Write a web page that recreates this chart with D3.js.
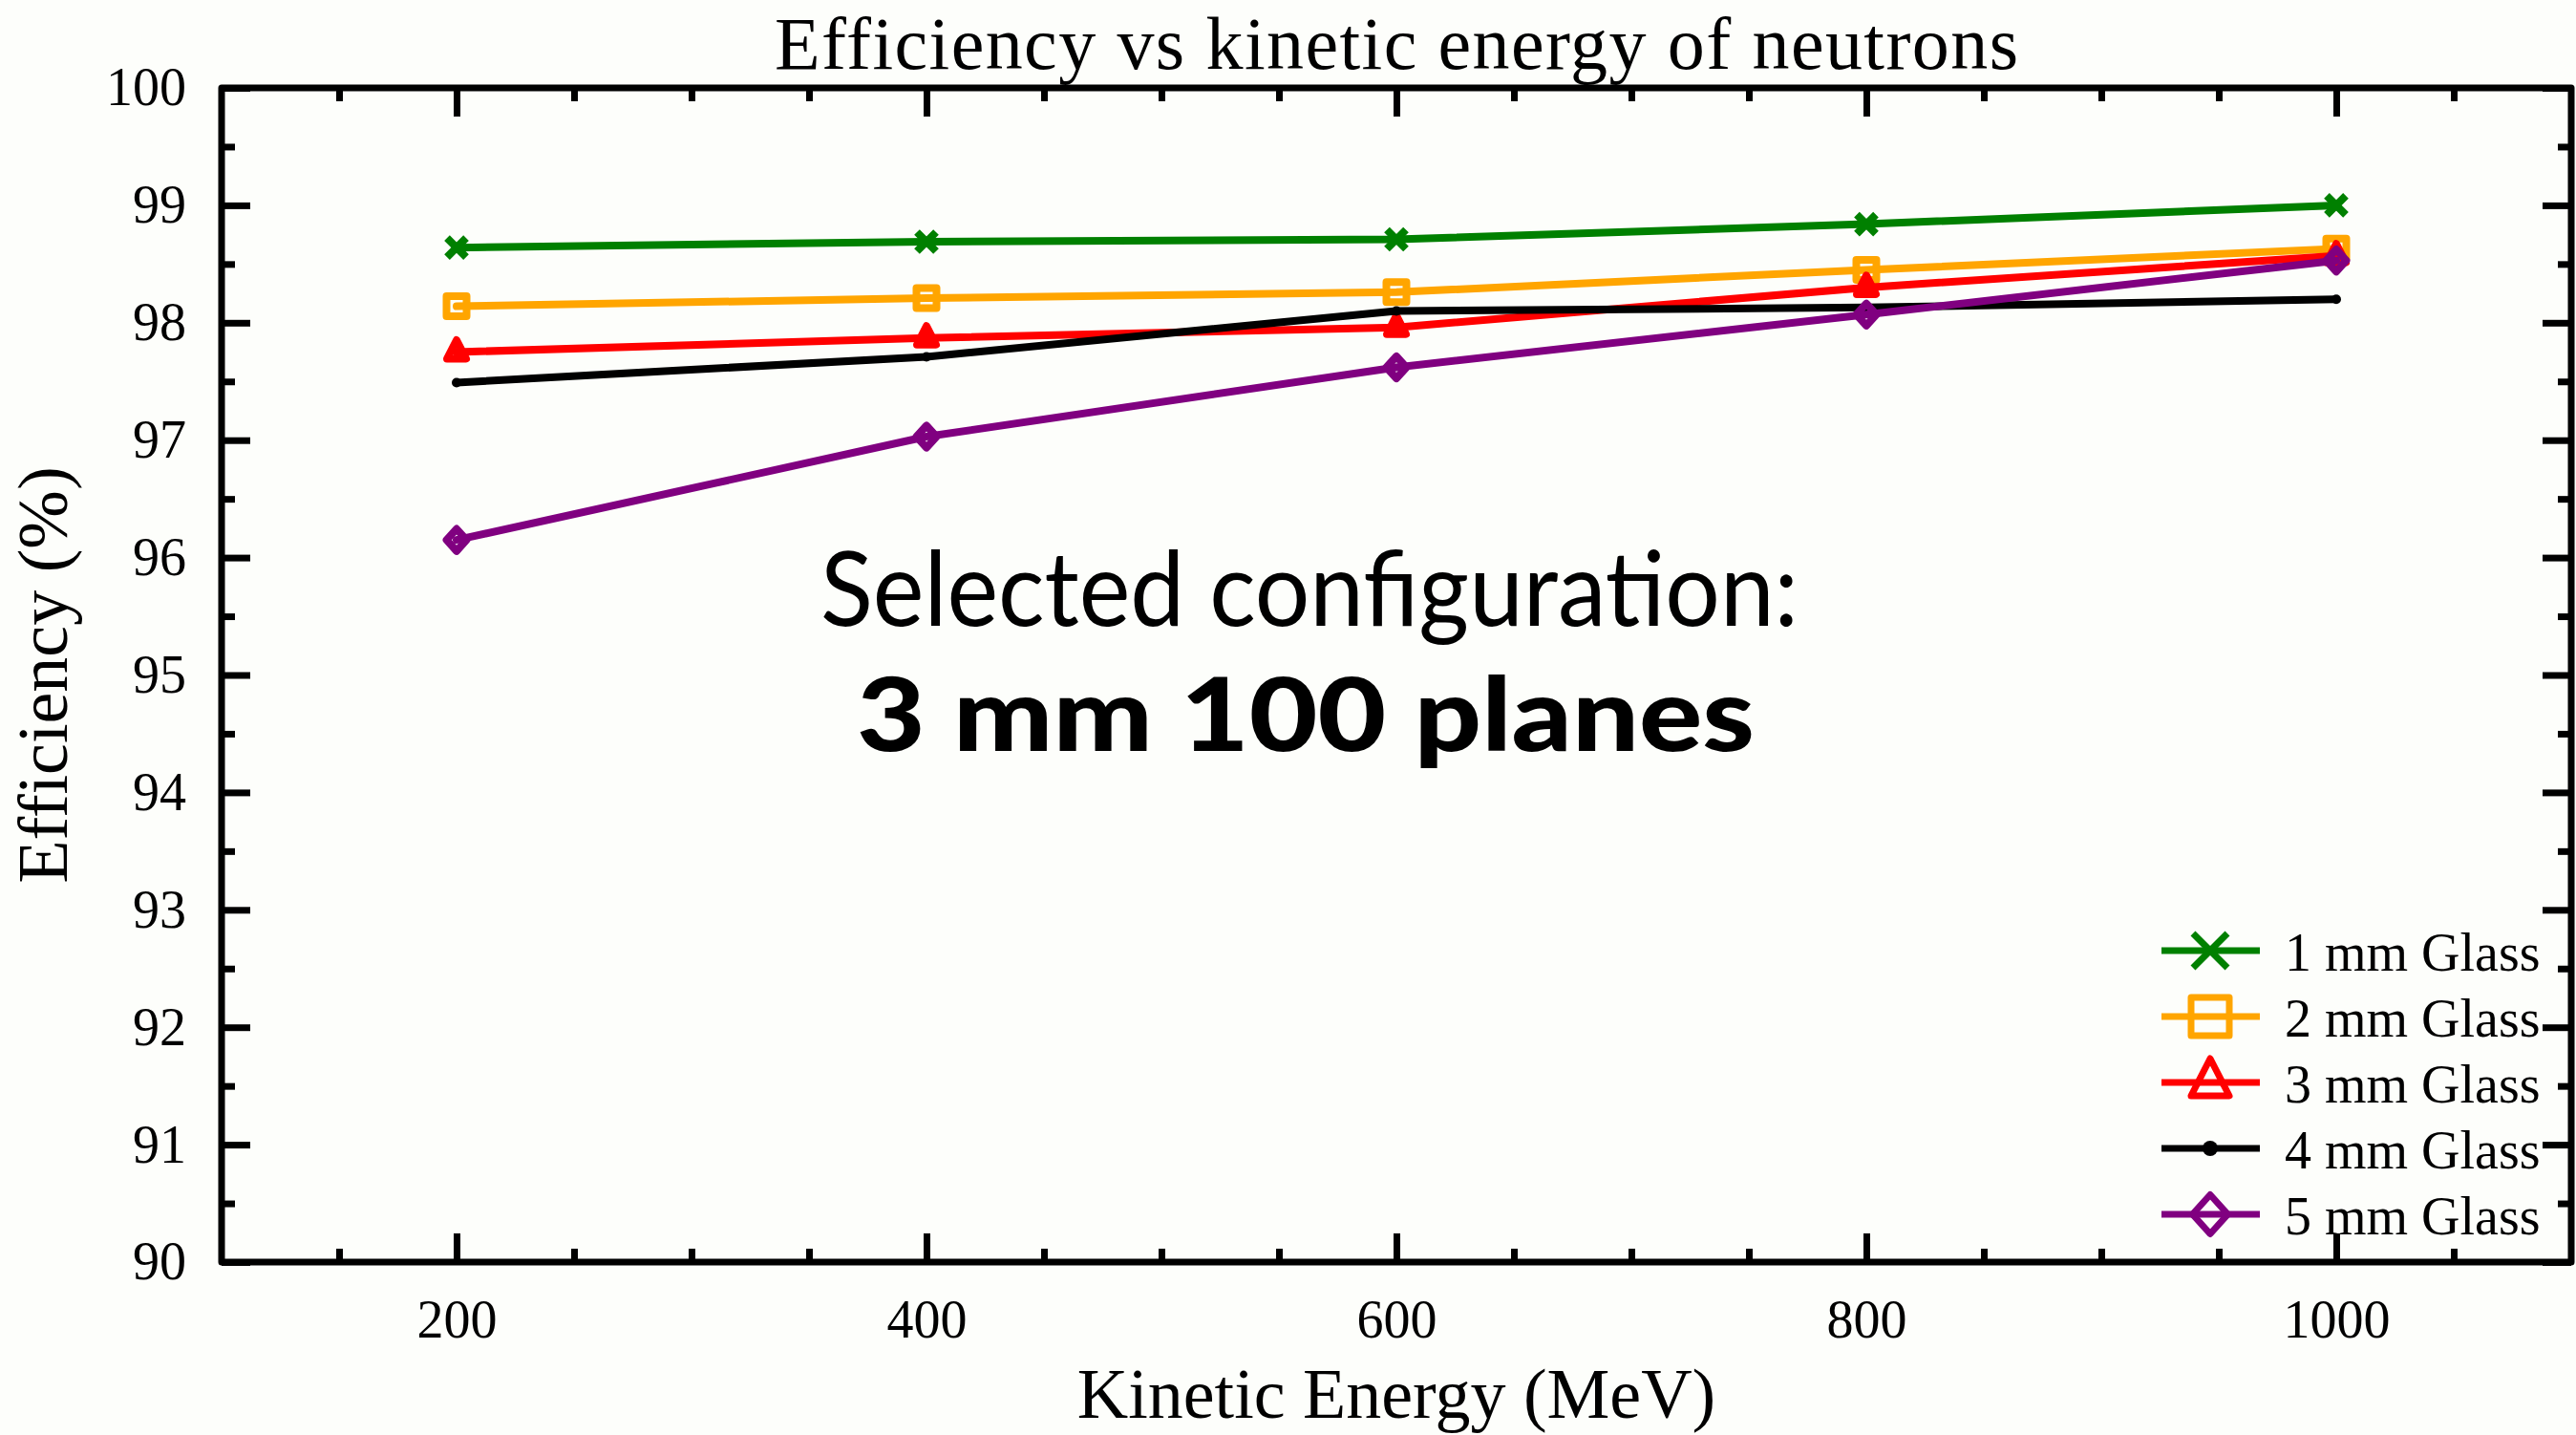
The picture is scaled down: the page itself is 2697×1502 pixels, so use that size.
<!DOCTYPE html>
<html>
<head>
<meta charset="utf-8">
<script src="https://cdn.jsdelivr.net/npm/d3@7"></script>
<style>
  html, body { margin: 0; padding: 0; background: #fdfefb; }
  svg { display: block; }
</style>
</head>
<body>
<script>
// ---- data ----
const energies = [200, 400, 600, 800, 1000];            // MeV
const seriesNames = ["1 mm Glass", "2 mm Glass", "3 mm Glass", "4 mm Glass", "5 mm Glass"];
const eff1mm = [98.64, 98.69, 98.71, 98.84, 99.00];
const eff2mm = [98.14, 98.21, 98.26, 98.45, 98.63];
const eff3mm = [97.75, 97.87, 97.96, 98.30, 98.57];
const eff4mm = [97.49, 97.71, 98.10, 98.13, 98.20];
const eff5mm = [96.15, 97.03, 97.62, 98.07, 98.53];
const seriesValues = [eff1mm, eff2mm, eff3mm, eff4mm, eff5mm];
const seriesColors = ["#008000", "#ffa500", "#ff0000", "#000000", "#800080"];
const seriesMarkers = ["cross", "square", "triangle", "dot", "diamond"];

const xMajorTicks = [200, 400, 600, 800, 1000];
const xMinorTicks = [150, 250, 300, 350, 450, 500, 550, 650, 700, 750, 850, 900, 950, 1050];
const yMajorTicks = [90, 91, 92, 93, 94, 95, 96, 97, 98, 99, 100];
const yMinorTicks = [90.5, 91.5, 92.5, 93.5, 94.5, 95.5, 96.5, 97.5, 98.5, 99.5];

const titleText = "Efficiency vs kinetic energy of neutrons";
const xTitle = "Kinetic Energy (MeV)";
const yTitle = "Efficiency (%)";
const noteLine1 = "Selected configuration:";
const noteLine2 = "3 mm 100 planes";

// ---- layout ----
const W = 2697, H = 1502;
const plot = { left: 232, right: 2692, top: 92, bottom: 1321 };
const serif = "'Liberation Serif', 'Times New Roman', serif";
const AX = 7;

const x = d3.scaleLinear().domain([100, 1100]).range([plot.left, plot.right]);
const y = d3.scaleLinear().domain([90, 100]).range([plot.bottom, plot.top]);

const svg = d3.select("body").append("svg")
  .attr("width", W).attr("height", H)
  .attr("viewBox", `0 0 ${W} ${H}`);

svg.append("rect").attr("width", W).attr("height", H).attr("fill", "#fdfefb");

// ---- marker shapes (size = half-extent in px) ----
function markerPath(kind, r) {
  const p = d3.path();
  switch (kind) {
    case "cross":
      p.moveTo(-r, -r); p.lineTo(r, r);
      p.moveTo(-r, r); p.lineTo(r, -r);
      break;
    case "square":
      p.rect(-r, -r, 2 * r, 2 * r);
      break;
    case "triangle":
      p.moveTo(0, -1.25 * r); p.lineTo(r, 0.7 * r); p.lineTo(-r, 0.7 * r); p.closePath();
      break;
    case "diamond":
      p.moveTo(0, -1.05 * r); p.lineTo(0.95 * r, 0); p.lineTo(0, 1.05 * r); p.lineTo(-0.95 * r, 0); p.closePath();
      break;
    case "dot":
      p.arc(0, 0, r, 0, 2 * Math.PI);
      break;
  }
  return p.toString();
}

function drawMarker(g, kind, color, cx, cy, big) {
  const sizes = big
    ? { cross: 18, square: 20, triangle: 20, diamond: 19.5, dot: 8 }
    : { cross: 10, square: 10.5, triangle: 10, diamond: 11, dot: 5 };
  const sw = big ? 7 : 8;
  const el = g.append("path")
    .attr("transform", `translate(${cx},${cy})`)
    .attr("d", markerPath(kind, sizes[kind]))
    .attr("stroke-linejoin", "round");
  if (kind === "dot") {
    el.attr("fill", color).attr("stroke", "none");
  } else {
    el.attr("fill", "none").attr("stroke", color).attr("stroke-width", sw)
      .attr("stroke-linecap", kind === "cross" ? "butt" : "round");
  }
}

// ---- axes (ticks point inward on all four sides) ----
function styleAxis(g) {
  g.select(".domain").remove();
  g.selectAll(".tick line").attr("stroke", "#000").attr("stroke-width", AX);
  g.selectAll(".tick text").attr("fill", "#000").attr("font-family", serif).attr("font-size", 56);
}

// bottom
svg.append("g").attr("transform", `translate(0,${plot.bottom})`)
  .call(d3.axisBottom(x).tickValues(xMajorTicks).tickSize(-30).tickPadding(39).tickFormat(d3.format("d")))
  .call(styleAxis);
svg.append("g").attr("transform", `translate(0,${plot.bottom})`)
  .call(d3.axisBottom(x).tickValues(xMinorTicks).tickSize(-14).tickFormat(""))
  .call(styleAxis);
// top
svg.append("g").attr("transform", `translate(0,${plot.top})`)
  .call(d3.axisTop(x).tickValues(xMajorTicks).tickSize(-30).tickFormat(""))
  .call(styleAxis);
svg.append("g").attr("transform", `translate(0,${plot.top})`)
  .call(d3.axisTop(x).tickValues(xMinorTicks).tickSize(-14).tickFormat(""))
  .call(styleAxis);
// left
svg.append("g").attr("transform", `translate(${plot.left},0)`)
  .call(d3.axisLeft(y).tickValues(yMajorTicks).tickSize(-30).tickPadding(37).tickFormat(d3.format("d")))
  .call(styleAxis);
svg.append("g").attr("transform", `translate(${plot.left},0)`)
  .call(d3.axisLeft(y).tickValues(yMinorTicks).tickSize(-14).tickFormat(""))
  .call(styleAxis);
// right
svg.append("g").attr("transform", `translate(${plot.right},0)`)
  .call(d3.axisRight(y).tickValues(yMajorTicks).tickSize(-30).tickFormat(""))
  .call(styleAxis);
svg.append("g").attr("transform", `translate(${plot.right},0)`)
  .call(d3.axisRight(y).tickValues(yMinorTicks).tickSize(-14).tickFormat(""))
  .call(styleAxis);

// frame
svg.append("rect")
  .attr("x", plot.left).attr("y", plot.top)
  .attr("width", plot.right - plot.left).attr("height", plot.bottom - plot.top)
  .attr("fill", "none").attr("stroke", "#000").attr("stroke-width", AX)
  .attr("stroke-linejoin", "round");

// ---- series ----
const line = d3.line().x((d, i) => x(energies[i])).y(d => y(d));
const seriesLayer = svg.append("g");
seriesValues.forEach((vals, k) => {
  const g = seriesLayer.append("g");
  g.append("path")
    .attr("d", line(vals))
    .attr("fill", "none")
    .attr("stroke", seriesColors[k])
    .attr("stroke-width", 8)
    .attr("stroke-linejoin", "round")
    .attr("stroke-linecap", "round");
  vals.forEach((v, i) => drawMarker(g, seriesMarkers[k], seriesColors[k], x(energies[i]), y(v), false));
});

// ---- legend ----
const legend = svg.append("g");
const legX0 = 2263, legX1 = 2366, legMid = 2314, legTextX = 2392, legTop = 995, legStep = 69;
seriesNames.forEach((name, k) => {
  const cy = legTop + k * legStep;
  legend.append("line")
    .attr("x1", legX0).attr("x2", legX1).attr("y1", cy).attr("y2", cy)
    .attr("stroke", seriesColors[k]).attr("stroke-width", 7);
  drawMarker(legend, seriesMarkers[k], seriesColors[k], legMid, cy, true);
  legend.append("text")
    .attr("x", legTextX).attr("y", cy + 21)
    .attr("font-family", serif).attr("font-size", 56).attr("fill", "#000")
    .text(name);
});

// ---- titles ----
svg.append("text")
  .attr("x", (plot.left + plot.right) / 2).attr("y", 72)
  .attr("text-anchor", "middle")
  .attr("font-family", serif).attr("font-size", 78).attr("fill", "#000")
  .attr("textLength", 1302).attr("lengthAdjust", "spacing")
  .text(titleText);

svg.append("text")
  .attr("x", (plot.left + plot.right) / 2).attr("y", 1484)
  .attr("text-anchor", "middle")
  .attr("font-family", serif).attr("font-size", 74).attr("fill", "#000")
  .text(xTitle);

svg.append("text")
  .attr("transform", `translate(70,${(plot.top + plot.bottom) / 2}) rotate(-90)`)
  .attr("text-anchor", "middle")
  .attr("font-family", serif).attr("font-size", 74).attr("fill", "#000")
  .text(yTitle);

// ---- annotation ----
const sans = "Lato, 'Open Sans', 'Noto Sans', sans-serif";
svg.append("text")
  .attr("x", 859).attr("y", 655)
  .attr("font-family", sans).attr("font-size", 108).attr("fill", "#000")
  .attr("textLength", 1024).attr("lengthAdjust", "spacingAndGlyphs")
  .text(noteLine1);
svg.append("text")
  .attr("x", 897).attr("y", 786)
  .attr("font-family", sans).attr("font-weight", 900).attr("font-size", 106).attr("fill", "#000")
  .attr("textLength", 940).attr("lengthAdjust", "spacingAndGlyphs")
  .text(noteLine2);
</script>
</body>
</html>
